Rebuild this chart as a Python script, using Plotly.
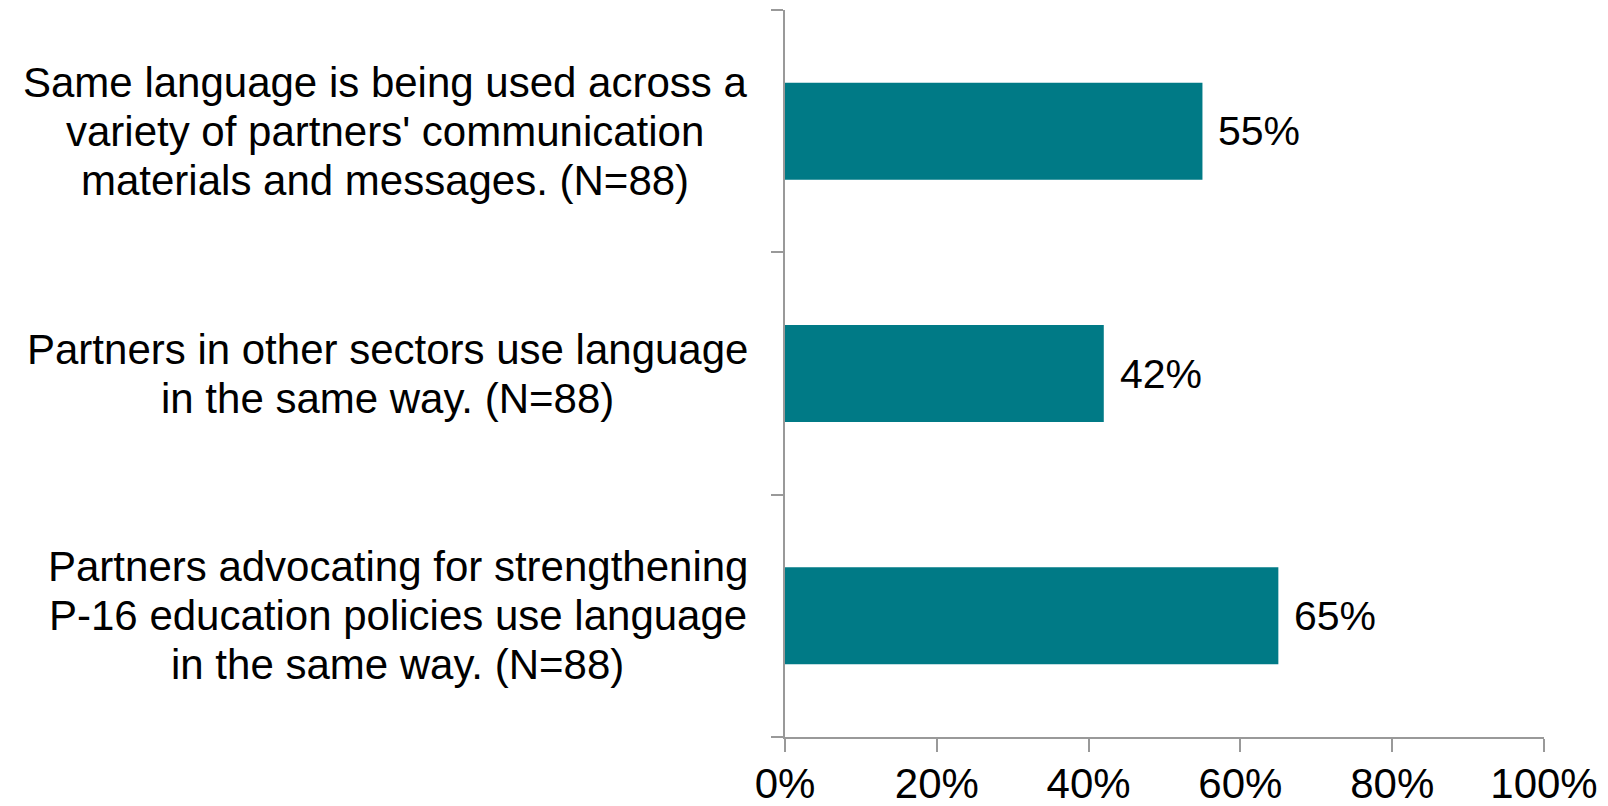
import plotly.graph_objects as go

# Survey statements (top to bottom), one entry per line of the label
categories = [
    ["Same language is being used across a",
     "variety of partners' communication",
     "materials and messages. (N=88)"],
    ["Partners in other sectors use language",
     "in the same way. (N=88)"],
    ["Partners advocating for strengthening",
     "P-16 education policies use language",
     "in the same way. (N=88)"],
]
# Share of respondents agreeing with each statement
values = [0.55, 0.42, 0.65]
x_ticks = [0, 0.2, 0.4, 0.6, 0.8, 1.0]
x_tick_labels = ["0%", "20%", "40%", "60%", "80%", "100%"]

BAR_COLOR = "#007A86"
AXIS_COLOR = "#999999"
FONT = "Liberation Sans, Arial, sans-serif"
LABEL_SIZE = 42
LINE_STEP = 49          # px between label lines
LABEL_CENTERS = [385, 387, 398]  # horizontal centre of each label block (px)

W, H = 1608, 806
M_L, M_R, M_T, M_B = 785, 64, 10, 69

positions = list(range(len(categories)))

fig = go.Figure(
    go.Bar(
        x=values,
        y=positions,
        orientation="h",
        marker=dict(color=BAR_COLOR, line=dict(width=0)),
        width=0.4,
        hoverinfo="skip",
    )
)

annotations = []
# value labels to the right of each bar
for p, v in zip(positions, values):
    annotations.append(dict(
        x=v, y=p, xref="x", yref="y", text=f"{v:.0%}",
        showarrow=False, xanchor="left", yanchor="middle", xshift=14,
        font=dict(family=FONT, size=41, color="#000000"),
    ))
# centred multi-line category labels left of the axis
for p, lines, cx in zip(positions, categories, LABEL_CENTERS):
    n = len(lines)
    for i, line in enumerate(lines):
        annotations.append(dict(
            x=(cx - M_L) / (W - M_L - M_R), y=p, xref="paper", yref="y",
            text=line, showarrow=False, xanchor="center", yanchor="middle",
            yshift=((n - 1) / 2 - i) * LINE_STEP,
            font=dict(family=FONT, size=LABEL_SIZE, color="#000000"),
        ))

fig.update_layout(
    width=W, height=H,
    margin=dict(l=M_L, r=M_R, t=M_T, b=M_B),
    paper_bgcolor="white", plot_bgcolor="white",
    showlegend=False,
    annotations=annotations,
    xaxis=dict(
        range=[0, 1], tickmode="array", tickvals=x_ticks, ticktext=x_tick_labels,
        showgrid=False, zeroline=False, automargin=False,
        showline=True, linecolor=AXIS_COLOR, linewidth=2,
        ticks="outside", ticklen=13, tickwidth=2, tickcolor=AXIS_COLOR,
        ticklabelstandoff=-4,
        tickfont=dict(family=FONT, size=42, color="#000000"),
    ),
    yaxis=dict(
        range=[len(categories) - 0.5, -0.5], automargin=False,
        tickmode="array", tickvals=[-0.5, 0.5, 1.5, 2.5], showticklabels=False,
        showgrid=False, zeroline=False,
        showline=True, linecolor=AXIS_COLOR, linewidth=2,
        ticks="outside", ticklen=12, tickwidth=2, tickcolor=AXIS_COLOR,
    ),
)

fig.write_html("out.html")
